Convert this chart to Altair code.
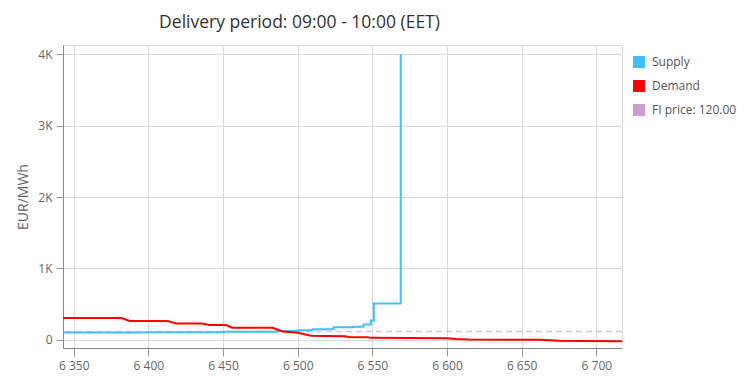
import altair as alt
import pandas as pd

# ---- data ----
supply_x = [6342.8, 6400, 6450, 6486, 6500, 6510, 6524, 6537, 6544, 6549, 6551, 6569]
supply_y = [105, 110, 115, 125, 135, 150, 178, 186, 218, 272, 510, 4000]

demand_x = [6342.8, 6382, 6387.5, 6413, 6418.5, 6436, 6441, 6452, 6456, 6483, 6490,
            6500, 6503, 6509, 6532, 6534, 6547, 6549, 6600, 6606, 6614, 6662, 6675,
            6690, 6717.2]
demand_y = [307, 307, 265, 265, 230, 230, 209, 209, 172, 172, 118,
            100, 88, 60, 52, 42, 40, 30, 26, 15, 6, 2, -10,
            -14, -16]

fi_price = [120]
legend_names = ["Supply", "Demand", "FI price: 120.00"]
legend_colors = ["#41c0ff", "#ff0000", "#cc9ccc"]

x_ticks = [6350 + 12.5 * i for i in range(30)]
y_ticks = [0, 1000, 2000, 3000, 4000]

X_DOMAIN = [6342.8, 6717.2]
Y_DOMAIN = [-112, 4126]

supply_df = pd.DataFrame({"mw": supply_x, "price": supply_y})
demand_df = pd.DataFrame({"mw": demand_x, "price": demand_y})
fi_df = pd.DataFrame({"price": fi_price})
leg_df = pd.DataFrame({"series": legend_names,
                       "mw": [X_DOMAIN[0]] * 3, "price": [0] * 3})

x_enc = alt.X(
    "mw:Q",
    scale=alt.Scale(domain=X_DOMAIN, nice=False, zero=False),
    axis=alt.Axis(
        title=None,
        values=x_ticks,
        labelExpr="datum.value % 50 === 0 ? replace(format(datum.value, ','), ',', ' ') : ''",
        tickSize={"condition": {"test": "datum.value % 50 === 0", "value": 8}, "value": 5},
        labelPadding=4,
        labelFontSize=12,
        labelColor="#666666",
        labelFont="Open Sans",
        domainColor="#888888",
        tickColor="#999999",
        gridColor="#d9d9d9",
        labelOverlap=False,
    ),
)
y_enc = alt.Y(
    "price:Q",
    scale=alt.Scale(domain=Y_DOMAIN, nice=False, zero=False),
    axis=alt.Axis(
        title="EUR/MWh",
        values=y_ticks,
        labelExpr="datum.value === 0 ? '0' : (datum.value / 1000) + 'K'",
        tickSize=7,
        labelPadding=4,
        labelFontSize=12,
        labelColor="#666666",
        labelFont="Open Sans",
        titleFont="Open Sans",
        titleFontSize=14,
        titleFontWeight="normal",
        titleColor="#666666",
        titlePadding=7,
        domainColor="#888888",
        tickColor="#999999",
        gridColor="#d9d9d9",
    ),
)

supply = alt.Chart(supply_df).mark_line(
    interpolate="step-after", color="#41c0ff", strokeWidth=2, clip=True
).encode(x=x_enc, y=y_enc)

demand = alt.Chart(demand_df).mark_line(
    color="#ff0000", strokeWidth=2, clip=True
).encode(x="mw:Q", y="price:Q")

fi = alt.Chart(fi_df).mark_rule(
    color="#e2bfe8", strokeWidth=1.5, strokeDash=[6, 4]
).encode(y="price:Q")

legend_layer = alt.Chart(leg_df).mark_square(size=0, filled=True, opacity=1).encode(
    x="mw:Q",
    y="price:Q",
    color=alt.Color(
        "series:N",
        scale=alt.Scale(domain=legend_names, range=legend_colors),
        legend=alt.Legend(
            title=None,
            orient="none",
            legendX=570,
            legendY=11,
            symbolType="square",
            symbolSize=144,
            symbolStrokeWidth=0,
            symbolOpacity=1,
            labelFont="Open Sans",
            labelFontSize=12,
            labelColor="#555555",
            labelOffset=7,
            rowPadding=12,
            padding=0,
        ),
    ),
)

chart = alt.layer(fi, supply, demand, legend_layer).properties(
    width=559,
    height=303,
    padding={"left": 63, "top": 45, "right": 127, "bottom": 30},
    autosize=alt.AutoSizeParams(type="none"),
    title=alt.TitleParams(
        text="Delivery period: 09:00 - 10:00 (EET)",
        font="Open Sans",
        fontSize=17.5,
        fontWeight="normal",
        color="#333333",
        anchor="middle",
        dx=-43,
        offset=14,
    ),
).configure_view(stroke=None).configure(background="white")

chart.save("out.html", embed_options={"renderer": "svg", "actions": False})
